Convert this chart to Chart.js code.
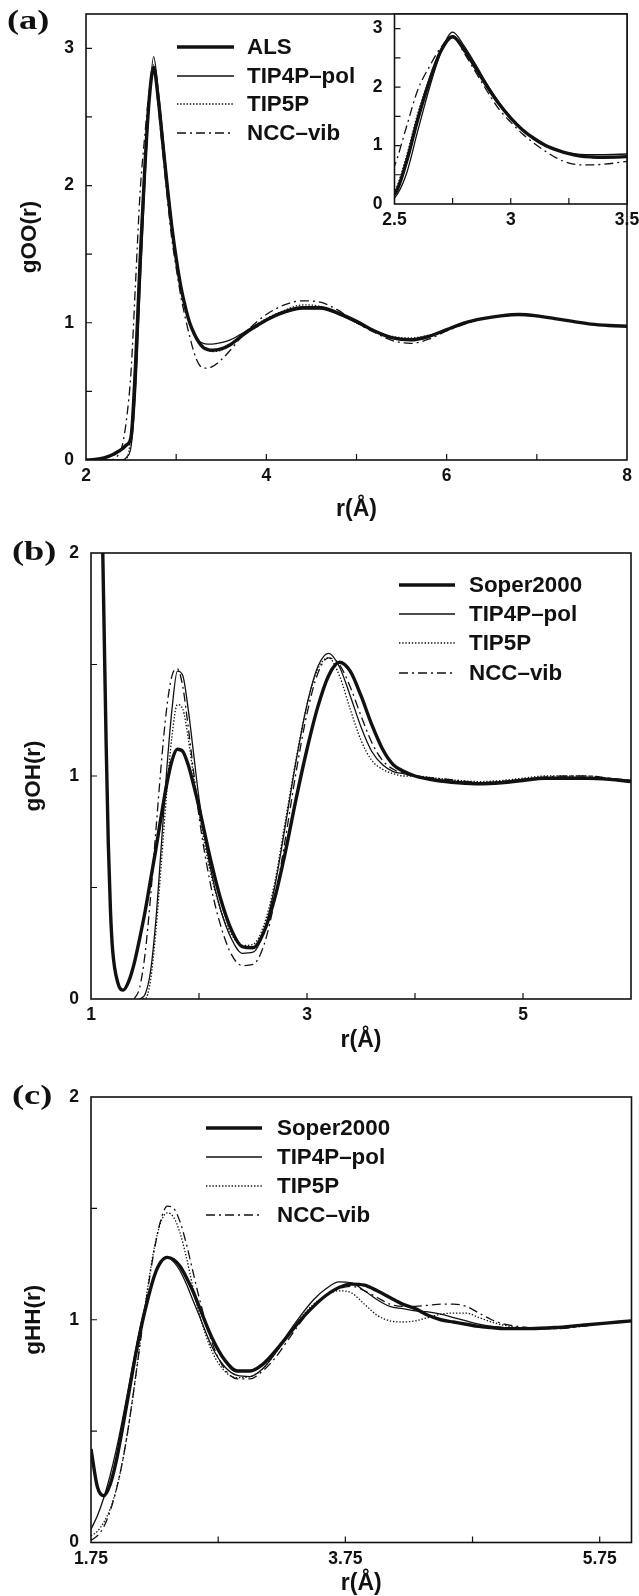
<!DOCTYPE html>
<html>
<head>
<meta charset="utf-8">
<script src="https://cdn.jsdelivr.net/npm/chart.js@4.4.1/dist/chart.umd.min.js"></script>
<style>
  html, body { margin: 0; padding: 0; background: #fff; }
  body { width: 639px; height: 1596px; position: relative; overflow: hidden; }
  canvas { position: absolute; }
</style>
</head>
<body>
<canvas id="cA" width="639" height="530" style="left:0;top:0;width:639px;height:530px"></canvas>
<canvas id="cIn" width="309" height="240" style="left:330px;top:0;width:309px;height:240px"></canvas>
<canvas id="cB" width="639" height="530" style="left:0;top:530px;width:639px;height:530px"></canvas>
<canvas id="cC" width="639" height="546" style="left:0;top:1050px;width:639px;height:546px"></canvas>
<script>
// ---------------- DATA ----------------
// (a) O-O radial distribution
const rOO = [2.0,2.1,2.2,2.3,2.35,2.4,2.45,2.5,2.55,2.6,2.65,2.7,2.75,2.8,2.85,2.9,2.95,3.0,3.05,3.1,3.15,3.2,3.25,3.3,3.35,3.4,3.5,3.6,3.7,3.8,3.9,4.0,4.2,4.4,4.6,4.8,5.0,5.2,5.4,5.6,5.8,6.0,6.2,6.4,6.6,6.8,7.0,7.2,7.4,7.6,7.8,8.0];
const gOO_ALS = [0,0.004,0.015,0.04,0.06,0.08,0.11,0.17,0.7,1.45,2.1,2.62,2.86,2.64,2.32,2.0,1.71,1.47,1.27,1.12,1.0,0.92,0.86,0.82,0.805,0.8,0.81,0.84,0.89,0.94,0.98,1.02,1.08,1.11,1.11,1.07,1.01,0.94,0.89,0.875,0.9,0.95,1.0,1.03,1.05,1.06,1.05,1.03,1.01,0.99,0.98,0.975];
const gOO_TIP4P = [0,0,0,0,0,0,0.02,0.1,0.5,1.25,1.98,2.6,2.94,2.7,2.38,2.04,1.74,1.48,1.28,1.12,1.0,0.92,0.87,0.85,0.845,0.845,0.855,0.875,0.91,0.95,0.99,1.02,1.07,1.1,1.1,1.06,1.0,0.94,0.895,0.88,0.9,0.95,0.995,1.03,1.05,1.06,1.05,1.03,1.01,0.99,0.98,0.975];
const gOO_TIP5P = [0,0,0,0,0,0,0.01,0.2,0.8,1.55,2.15,2.65,2.88,2.6,2.3,1.98,1.7,1.46,1.26,1.11,0.99,0.91,0.86,0.82,0.8,0.79,0.8,0.84,0.89,0.94,0.99,1.03,1.09,1.13,1.12,1.07,1.0,0.94,0.9,0.89,0.91,0.95,0.995,1.03,1.05,1.055,1.045,1.03,1.01,0.99,0.98,0.975];
const gOO_NCC = [0,0,0,0.005,0.03,0.1,0.3,0.65,1.3,1.95,2.35,2.68,2.87,2.58,2.25,1.92,1.62,1.4,1.2,1.04,0.9,0.78,0.7,0.67,0.67,0.68,0.73,0.8,0.88,0.95,1.01,1.06,1.13,1.16,1.15,1.09,1.0,0.93,0.87,0.85,0.88,0.94,0.99,1.03,1.05,1.055,1.05,1.03,1.01,0.99,0.98,0.975];

// (b) O-H radial distribution
const rOH = [1.08,1.1,1.12,1.14,1.16,1.18,1.2,1.25,1.3,1.35,1.4,1.45,1.5,1.55,1.6,1.65,1.7,1.75,1.8,1.85,1.9,1.95,2.0,2.1,2.2,2.3,2.4,2.5,2.6,2.7,2.8,2.9,3.0,3.1,3.2,3.3,3.4,3.5,3.6,3.7,3.8,3.9,4.0,4.2,4.4,4.6,4.8,5.0,5.2,5.4,5.6,5.8,6.0];
const gOH_Soper = [2.8,2.25,1.7,1.15,0.7,0.4,0.22,0.07,0.04,0.08,0.16,0.27,0.39,0.53,0.67,0.82,0.96,1.07,1.12,1.11,1.05,0.96,0.86,0.64,0.45,0.31,0.235,0.23,0.3,0.45,0.66,0.9,1.12,1.31,1.45,1.51,1.47,1.36,1.23,1.12,1.05,1.02,1.0,0.98,0.97,0.965,0.97,0.98,0.99,0.99,0.99,0.985,0.975];
const gOH_TIP4P = [null,null,null,null,null,null,null,null,null,null,null,0,0.02,0.12,0.35,0.68,1.02,1.3,1.47,1.45,1.3,1.1,0.9,0.6,0.4,0.27,0.205,0.21,0.3,0.5,0.78,1.07,1.32,1.49,1.55,1.49,1.36,1.22,1.11,1.05,1.02,1.01,1.0,0.985,0.975,0.97,0.975,0.985,0.99,0.995,0.99,0.985,0.98];
const gOH_TIP5P = [null,null,null,null,null,null,null,null,null,null,null,0,0,0.08,0.3,0.6,0.92,1.18,1.32,1.3,1.17,1.0,0.84,0.58,0.4,0.29,0.24,0.245,0.33,0.52,0.8,1.08,1.32,1.48,1.53,1.45,1.3,1.16,1.07,1.03,1.01,1.0,1.0,0.99,0.98,0.975,0.98,0.99,1.0,1.0,1.0,0.99,0.98];
const gOH_NCC = [null,null,null,null,null,null,null,null,null,null,0,0.05,0.2,0.45,0.75,1.05,1.3,1.45,1.48,1.4,1.22,1.02,0.82,0.53,0.33,0.2,0.15,0.155,0.24,0.44,0.72,1.02,1.28,1.46,1.53,1.5,1.4,1.27,1.15,1.07,1.03,1.01,1.0,0.99,0.98,0.97,0.975,0.985,0.995,1.0,1.0,0.99,0.98];

// (c) H-H radial distribution
const rHH = [1.75,1.8,1.85,1.9,1.95,2.0,2.05,2.1,2.15,2.2,2.25,2.3,2.35,2.4,2.45,2.5,2.55,2.6,2.7,2.8,2.9,3.0,3.1,3.2,3.3,3.4,3.5,3.6,3.7,3.8,3.9,4.0,4.1,4.2,4.3,4.4,4.5,4.6,4.7,4.8,4.9,5.0,5.2,5.4,5.6,5.8,6.0];
const gHH_Soper = [0.42,0.25,0.21,0.26,0.37,0.52,0.68,0.84,0.98,1.1,1.2,1.26,1.28,1.27,1.24,1.19,1.13,1.06,0.92,0.82,0.77,0.77,0.8,0.86,0.93,1.0,1.06,1.11,1.145,1.16,1.155,1.13,1.1,1.07,1.05,1.02,1.0,0.99,0.98,0.97,0.965,0.96,0.96,0.965,0.975,0.985,0.995];
const gHH_TIP4P = [0.06,0.12,0.2,0.3,0.42,0.56,0.71,0.86,1.0,1.11,1.2,1.26,1.28,1.26,1.22,1.16,1.09,1.02,0.88,0.79,0.75,0.745,0.78,0.85,0.94,1.02,1.09,1.14,1.17,1.165,1.13,1.09,1.06,1.05,1.04,1.035,1.025,1.01,0.995,0.98,0.97,0.965,0.96,0.965,0.975,0.985,0.995];
const gHH_TIP5P = [0.03,0.05,0.09,0.15,0.24,0.37,0.54,0.74,0.96,1.16,1.33,1.44,1.48,1.46,1.39,1.28,1.15,1.03,0.86,0.77,0.74,0.745,0.78,0.85,0.93,1.01,1.07,1.11,1.13,1.12,1.07,1.02,0.995,0.99,0.995,1.01,1.025,1.03,1.03,1.01,0.99,0.975,0.96,0.96,0.97,0.985,0.995];
const gHH_NCC = [0.01,0.03,0.07,0.14,0.24,0.37,0.54,0.74,0.95,1.15,1.32,1.45,1.51,1.5,1.44,1.34,1.22,1.1,0.9,0.78,0.735,0.735,0.77,0.83,0.91,0.99,1.06,1.11,1.14,1.15,1.13,1.1,1.07,1.06,1.06,1.065,1.07,1.07,1.06,1.03,1.0,0.98,0.965,0.96,0.97,0.985,0.995];

// series names
const namesA = ['ALS', 'TIP4P\u2013pol', 'TIP5P', 'NCC\u2013vib'];
const namesBC = ['Soper2000', 'TIP4P\u2013pol', 'TIP5P', 'NCC\u2013vib'];

// ticks / labels
const xTicksA = [2,3,4,5,6,7,8];          const xLabelsA = [2,4,6,8];
const yTicksA = [0,0.5,1,1.5,2,2.5,3];    const yLabelsA = [0,1,2,3];
const xTicksIn = [2.5,2.75,3,3.25,3.5];   const xLabelsIn = [2.5,3,3.5];
const yTicksIn = [0,0.5,1,1.5,2,2.5,3];   const yLabelsIn = [0,1,2,3];
const xTicksB = [1,2,3,4,5,6];            const xLabelsB = [1,3,5];
const yTicksB = [0,0.5,1,1.5,2];          const yLabelsB = [0,1,2];
const xTicksC = [1.75,2.75,3.75,4.75,5.75]; const xLabelsC = [1.75,3.75,5.75];
const yTicksC = [0,0.5,1,1.5,2];          const yLabelsC = [0,1,2];

// ---------------- STYLE ----------------
const INK = '#111';
const SANS = "'Liberation Sans', Arial, Helvetica, sans-serif";
const SERIF = "'Liberation Serif', 'Times New Roman', serif";
const styles = [
  { borderWidth: 3.4, borderDash: [] },
  { borderWidth: 1.3, borderDash: [] },
  { borderWidth: 1.3, borderDash: [1.4, 1.8] },
  { borderWidth: 1.3, borderDash: [9, 4, 2, 4] }
];

function series(label, xs, ys, style) {
  return Object.assign({
    label,
    data: xs.map((x, i) => ({ x, y: ys[i] })).filter(p => p.y !== null),
    borderColor: INK,
    backgroundColor: INK,
    pointRadius: 0,
    fill: false,
    cubicInterpolationMode: 'monotone'
  }, style);
}

const framePlugin = {
  id: 'frame',
  beforeDraw(chart, args, o) {
    if (o.fillWhite) {
      const a = chart.chartArea, c = chart.ctx;
      c.save(); c.fillStyle = '#fff';
      c.fillRect(a.left, a.top, a.right - a.left, a.bottom - a.top);
      c.restore();
    }
  },
  afterDraw(chart, args, o) {
    const c = chart.ctx, a = chart.chartArea;
    c.save();
    c.strokeStyle = INK; c.fillStyle = INK; c.setLineDash([]);
    c.lineWidth = 1.6;
    c.strokeRect(a.left, a.top, a.right - a.left, a.bottom - a.top);
    c.lineWidth = 1.2;
    const L = 6;
    const xs = chart.scales.x, ys = chart.scales.y;
    c.beginPath();
    xs.ticks.forEach(t => {
      const p = xs.getPixelForValue(t.value);
      if (p > a.left + 1 && p < a.right - 1) { c.moveTo(p, a.bottom); c.lineTo(p, a.bottom - L); }
    });
    ys.ticks.forEach(t => {
      const p = ys.getPixelForValue(t.value);
      if (p > a.top + 1 && p < a.bottom - 1) { c.moveTo(a.left, p); c.lineTo(a.left + L, p); }
    });
    c.stroke();
    if (o.legend) {
      const g = o.legend;
      chart.data.datasets.forEach((d, i) => {
        const y = g.ys[i];
        c.lineWidth = d.borderWidth;
        c.setLineDash(d.borderDash || []);
        c.beginPath(); c.moveTo(g.x0, y); c.lineTo(g.x1, y); c.stroke();
        c.setLineDash([]);
        c.save();
        c.font = 'bold 21.5px ' + SANS;
        c.textBaseline = 'middle'; c.textAlign = 'left';
        c.translate(g.tx, y + 1); c.scale(1.04, 1);
        c.fillText(d.label, 0, 0);
        c.restore();
      });
    }
    if (o.panel) {
      c.save();
      c.font = 'bold 28px ' + SERIF;
      c.textBaseline = 'middle'; c.textAlign = 'left';
      c.translate(o.panel.x, o.panel.y); c.scale(1.3, 1);
      c.fillText(o.panel.text, 0, 0);
      c.restore();
    }
    c.restore();
  }
};

function makeChart(id, cfg) {
  const tickFont = { family: SANS, size: 17.5, weight: 'bold', lineHeight: 1.2 };
  const titleFontX = { family: SANS, size: 23, weight: 'bold', lineHeight: 1 };
  const titleFontY = { family: SANS, size: 22.5, weight: 'bold', lineHeight: 1 };
  return new Chart(document.getElementById(id), {
    type: 'line',
    data: { datasets: cfg.datasets },
    plugins: [framePlugin],
    options: {
      responsive: false, animation: false, devicePixelRatio: 1,
      layout: { padding: cfg.padding },
      plugins: {
        legend: { display: false }, tooltip: { enabled: false },
        frame: { legend: cfg.legend, panel: cfg.panel, fillWhite: cfg.fillWhite }
      },
      elements: { point: { radius: 0 }, line: { tension: 0 } },
      scales: {
        x: {
          type: 'linear', min: cfg.xMin, max: cfg.xMax,
          grid: { display: false, drawTicks: false }, border: { display: false },
          afterBuildTicks: s => { s.ticks = cfg.xTicks.map(v => ({ value: v })); },
          afterFit: s => { s.height = cfg.xHeight; s.paddingLeft = 0; s.paddingRight = 0; },
          ticks: {
            padding: 6, maxRotation: 0, minRotation: 0, autoSkip: false, color: INK, font: tickFont,
            callback: v => cfg.xLabels.includes(v) ? String(v) : ''
          },
          title: { display: !!cfg.xTitle, text: cfg.xTitle || '', color: INK, font: titleFontX, padding: { top: 0, bottom: 0 } }
        },
        y: {
          type: 'linear', min: cfg.yMin, max: cfg.yMax,
          grid: { display: false, drawTicks: false }, border: { display: false },
          afterBuildTicks: s => { s.ticks = cfg.yTicks.map(v => ({ value: v })); },
          afterFit: s => { s.width = cfg.yWidth; s.paddingTop = 0; s.paddingBottom = 0; },
          ticks: {
            padding: 12, autoSkip: false, color: INK, font: tickFont,
            callback: v => cfg.yLabels.includes(v) ? String(v) : ''
          },
          title: { display: !!cfg.yTitle, text: cfg.yTitle || '', color: INK, font: titleFontY, padding: { top: cfg.yTitlePad || 0, bottom: 0 } }
        }
      }
    }
  });
}

const dsA = () => [
  series(namesA[0], rOO, gOO_ALS, styles[0]),
  series(namesA[1], rOO, gOO_TIP4P, styles[1]),
  series(namesA[2], rOO, gOO_TIP5P, styles[2]),
  series(namesA[3], rOO, gOO_NCC, styles[3])
];

makeChart('cA', {
  datasets: dsA(),
  xMin: 2, xMax: 8, yMin: 0, yMax: 3.25,
  xTicks: xTicksA, xLabels: xLabelsA, yTicks: yTicksA, yLabels: yLabelsA,
  padding: { top: 14, right: 12, left: 0, bottom: 9 },
  yWidth: 86, xHeight: 61, yTitlePad: 18.5,
  xTitle: 'r(\u00C5)', yTitle: 'gOO(r)',
  legend: { x0: 177, x1: 234, tx: 247, ys: [47, 76, 104, 133] },
  panel: { text: '(a)', x: 7, y: 22 }
});

makeChart('cIn', {
  datasets: dsA(),
  xMin: 2.5, xMax: 3.5, yMin: 0, yMax: 3.25,
  xTicks: xTicksIn, xLabels: xLabelsIn, yTicks: yTicksIn, yLabels: yLabelsIn,
  padding: { top: 14, right: 12, left: 0, bottom: 0 },
  yWidth: 64.5, xHeight: 36,
  fillWhite: true
});

makeChart('cB', {
  datasets: [
    series(namesBC[0], rOH, gOH_Soper, styles[0]),
    series(namesBC[1], rOH, gOH_TIP4P, styles[1]),
    series(namesBC[2], rOH, gOH_TIP5P, styles[2]),
    series(namesBC[3], rOH, gOH_NCC, styles[3])
  ],
  xMin: 1, xMax: 6, yMin: 0, yMax: 2,
  xTicks: xTicksB, xLabels: xLabelsB, yTicks: yTicksB, yLabels: yLabelsB,
  padding: { top: 23, right: 8, left: 0, bottom: 8 },
  yWidth: 91, xHeight: 53, yTitlePad: 22.5,
  xTitle: 'r(\u00C5)', yTitle: 'gOH(r)',
  legend: { x0: 399, x1: 455, tx: 469, ys: [55, 84, 113, 143] },
  panel: { text: '(b)', x: 12, y: 23 }
});

makeChart('cC', {
  datasets: [
    series(namesBC[0], rHH, gHH_Soper, styles[0]),
    series(namesBC[1], rHH, gHH_TIP4P, styles[1]),
    series(namesBC[2], rHH, gHH_TIP5P, styles[2]),
    series(namesBC[3], rHH, gHH_NCC, styles[3])
  ],
  xMin: 1.75, xMax: 6, yMin: 0, yMax: 2,
  xTicks: xTicksC, xLabels: xLabelsC, yTicks: yTicksC, yLabels: yLabelsC,
  padding: { top: 47, right: 7.5, left: 0, bottom: 1 },
  yWidth: 91, xHeight: 52.5, yTitlePad: 22.5,
  xTitle: 'r(\u00C5)', yTitle: 'gHH(r)',
  legend: { x0: 206, x1: 262, tx: 277, ys: [78, 107, 136, 165] },
  panel: { text: '(c)', x: 12, y: 47 }
});
</script>
</body>
</html>
